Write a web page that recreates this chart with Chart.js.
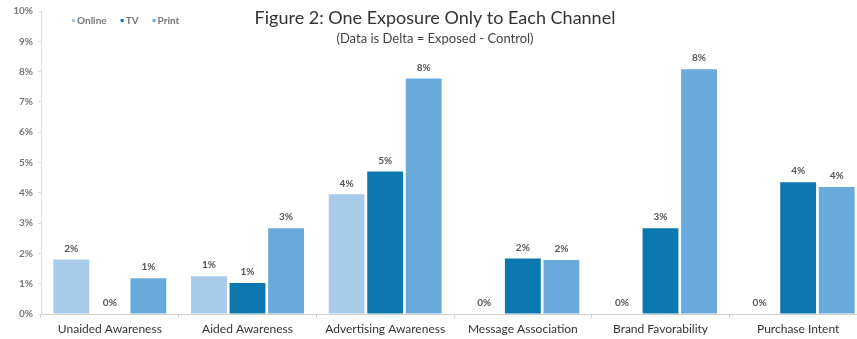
<!DOCTYPE html>
<html lang="en-US">

<head>
    <meta charset="UTF-8">
    <title>One Exposure Only to Each Channel</title>
    <script src="https://cdn.jsdelivr.net/npm/chart.js"></script>
    <style>
        body { margin: 0; overflow: hidden; background: #fff; }
        #wrap { position: relative; width: 870px; height: 339px; }
    </style>
</head>

<body>
    <div id="wrap">
        <canvas id="exposureChart"></canvas>
    </div>

    <script>
        // lift in percentage points (exposed minus control)
        const categories = ['Unaided Awareness', 'Aided Awareness', 'Advertising Awareness',
            'Message Association', 'Brand Favorability', 'Purchase Intent'];
        const online = [1.8, 1.25, 3.95, 0, 0, 0];
        const tv = [0, 1.02, 4.7, 1.83, 2.83, 4.35];
        const print = [1.18, 2.83, 7.77, 1.78, 8.08, 4.19];
        const yTicks = [0, 1, 2, 3, 4, 5, 6, 7, 8, 9, 10];

        const titleText = 'Figure 2: One Exposure Only to Each Channel';
        const subtitleText = '(Data is Delta = Exposed - Control)';

        const FONT = 'Lato, "Liberation Sans", sans-serif';

        // title + subtitle + small legend all sit on top of the plot
        const headerPlugin = {
            id: 'header',
            afterDraw(chart) {
                const ctx = chart.ctx;
                const cx = chart.width / 2;
                ctx.save();
                ctx.textAlign = 'center';
                ctx.textBaseline = 'middle';
                ctx.fillStyle = '#333';
                ctx.font = '18px ' + FONT;
                ctx.fillText(titleText, cx, 18);
                ctx.fillStyle = '#444';
                ctx.font = '13px ' + FONT;
                ctx.fillText(subtitleText, cx, 39);

                // legend: tiny square then name, left to right
                ctx.textAlign = 'left';
                ctx.font = 'bold 10px ' + FONT;
                let x = 72;
                chart.data.datasets.forEach(ds => {
                    ctx.fillStyle = ds.backgroundColor;
                    ctx.fillRect(x, 19, 3, 3);
                    ctx.fillStyle = '#777';
                    ctx.fillText(ds.label, x + 5, 21);
                    x += 5 + ctx.measureText(ds.label).width + 14;
                });
                ctx.restore();
            }
        };

        // rounded value above every bar, zeros included
        const valueLabels = {
            id: 'valueLabels',
            afterDatasetsDraw(chart) {
                const ctx = chart.ctx;
                ctx.save();
                ctx.textAlign = 'center';
                ctx.textBaseline = 'bottom';
                ctx.fillStyle = '#555';
                ctx.font = 'bold 10px ' + FONT;
                chart.data.datasets.forEach((ds, i) => {
                    chart.getDatasetMeta(i).data.forEach((bar, j) => {
                        ctx.fillText(Math.round(ds.data[j]) + '%', bar.x, bar.y - 6);
                    });
                });
                ctx.restore();
            }
        };

        const canvas = document.getElementById('exposureChart');

        new Chart(canvas, {
            type: 'bar',
            data: {
                labels: categories,
                datasets: [
                    { label: 'Online', data: online, backgroundColor: '#a8cbea' },
                    { label: 'TV', data: tv, backgroundColor: '#0b78b0' },
                    { label: 'Print', data: print, backgroundColor: '#6aa9dc' }
                ]
            },
            options: {
                responsive: true,
                maintainAspectRatio: false,
                animation: false,
                layout: { padding: { top: 10, right: 3, left: 0, bottom: 0 } },
                datasets: {
                    bar: { categoryPercentage: 0.84, barPercentage: 0.93 }
                },
                plugins: {
                    tooltip: { enabled: false },
                    legend: { display: false }
                },
                scales: {
                    x: {
                        grid: {
                            offset: true,
                            drawOnChartArea: false,
                            tickLength: 4,
                            color: '#d6d0c8'
                        },
                        border: { color: '#d6d0c8' },
                        ticks: {
                            color: '#333',
                            padding: 4,
                            maxRotation: 0,
                            font: { family: FONT, size: 12 }
                        },
                        afterFit(scale) { scale.height = 25; }
                    },
                    y: {
                        min: 0,
                        max: 10,
                        afterBuildTicks(scale) {
                            scale.ticks = yTicks.map(v => ({ value: v }));
                        },
                        grid: {
                            drawOnChartArea: false,
                            tickLength: 3,
                            color: '#ddd'
                        },
                        border: { color: '#ddd' },
                        ticks: {
                            color: '#777',
                            padding: 5,
                            font: { family: FONT, size: 10, weight: 'bold' },
                            callback: v => v + '%'
                        },
                        afterFit(scale) { scale.width = 41; }
                    }
                }
            },
            plugins: [headerPlugin, valueLabels]
        });
    </script>
</body>

</html>
